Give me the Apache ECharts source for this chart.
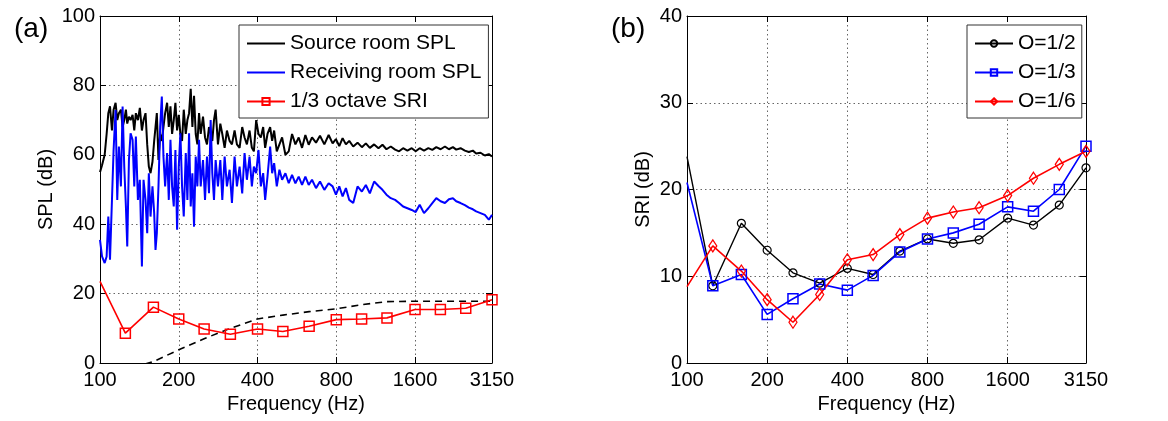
<!DOCTYPE html>
<html><head><meta charset="utf-8">
<script src="https://cdn.jsdelivr.net/npm/echarts@6/dist/echarts.min.js"></script>
<style>html,body{margin:0;padding:0;background:#fff}#c{width:1168px;height:421px}</style>
</head><body><div id="c"></div>
<script>
// ---------- data ----------
const xTickValues = [100, 200, 400, 800, 1600, 3150];
const bandFreq = [100,125,160,200,250,315,400,500,630,800,1000,1250,1600,2000,2500,3150];

// panel (a): narrow-band spectra
const specFreq = [
 100,101.8,104.2,106.0,107.6,109.2,111.1,112.7,114.7,116.4,
 118.1,120.2,122.0,123.8,125.6,127.1,129.0,130.9,133.2,135.2,
 137.1,139.6,142.0,144.6,146.7,149.3,151.5,153.7,156.0,158.7,
 161.1,163.0,164.9,167.3,169.8,172.3,174.8,177.4,180.5,183.2,
 185.9,188.6,191.4,194.2,197.1,200,202.9,205.9,209.0,212.7,
 215.8,219.0,222.2,225.5,228.8,232.2,235.6,239.1,242.6,247.6,
 252.0,256.4,261.0,264.8,268.7,272.7,276.7,282.4,288.3,293.4,
 299.5,305.6,312.9,319.4,326.9,333.7,341.6,349.6,356.9,364.3,
 372.9,380.6,387.4,395.3,403.5,411.9,420.4,427.8,436.7,447.0,
 454.9,463.0,473.9,485.1,496.6,511.3,526.5,542.1,558.3,574.8,
 591.9,609.5,627.6,646.2,669.3,693.2,720.2,748.1,774.7,797.7,
 821.4,845.8,870.8,896.6,928.7,964.7,1002.1,1037.9,1074.9,1116.6,
 1159.8,1201.2,1244.2,1292.4,1342.6,1390.5,1440.3,1496.2,1554.2,1609.4,
 1666.9,1731.5,1798.6,1862.9,1929.4,2004.2,2081.9,2156.3,2233.1,2299.4,
 2388.5,2481.1,2569.8,2661.6,2740.6,2846.9,2957.3,3062.9,3150
];
const sourceSPL = [
 55,57,60,66,72,74,67,73,75,70,
 72,73,68,70,73,69,71,70,71.5,67,
 72,70,73.5,67,70,72,63,56.6,54.7,58,
 64,68,72,58.5,66,64,68,72,75,68,
 74,66,70,75,67,71.5,66,64,73,66,
 70,72,79,68,77,66,63,72,66,71,
 65,63,68,66,64,70,73,63,69,66,
 62,67,64,63,67,63,62,68,65,63,
 67,62,61,70,66,65,68,62,66,68,
 64,67,61,63,65,60,61,66,63,65,
 62,65.7,62.9,65,63.5,65.5,63,65.7,63.3,64.5,
 62.5,64.8,63,64,62.4,63.5,62.2,63.3,62,63,
 61.9,62.9,61.6,62.4,61.5,61,61.9,61.2,61.9,61,
 61.9,61.2,61.9,61.4,62.2,61.6,62.4,61.6,62.2,61.5,
 61.9,61.2,60.8,61.2,60.4,60.6,59.8,60.2,59.5
];
const receivingSPL = [
 35.5,30.7,28.8,30.7,42.2,29.8,47,61.4,72.9,47,
 62.4,50.9,73.9,56.6,45.1,33.6,58.5,66.2,64.3,50.9,
 65.3,47,52.8,27.8,52.8,47,37.4,54.7,42.2,50.9,
 43.2,32.6,37.4,50.9,68.1,76.8,59.5,50.9,60.5,47,
 64.3,50.9,45.1,61.4,38.4,56.6,66.2,50.9,42.2,60.5,
 47,66.2,45.1,54.7,39.3,59.5,50.9,64.3,50.9,58.5,
 47,59.5,48.9,70,54.7,47,58.5,50.9,58.5,47,
 59.5,50.9,55.7,46.1,59.5,50.9,56.6,48.9,60.5,52.8,
 59.5,50.9,56.6,54.7,61.4,50.9,54.7,47,53.7,62.4,
 54.7,57.6,50.9,55.7,52.8,54.7,51.8,54.2,51.8,53.7,
 51.3,53.7,51.3,52.8,50.4,52.3,49.9,51.8,50.9,48.5,
 50.9,48,50.4,47,46.1,50.9,49.4,51.3,48.9,52.3,
 51,49.9,48.5,47.5,47,46.1,45.1,44.6,44.1,43.5,
 45.6,43.2,44.6,46.1,47.5,46.6,46.1,47.2,47.5,46.6,
 46.1,45.5,44.8,44.3,43.7,43.2,42.7,41.3,42.7
];
const sriThird = [23.5,8.6,16.1,12.7,9.8,8.3,9.8,9.1,10.6,12.5,12.7,13.0,15.4,15.4,15.8,18.2];
const refCurve = [-5,-2,0.4,3.8,7,10,12.7,13.8,14.8,15.6,16.8,17.7,17.8,17.8,17.8,17.8];

// panel (b)
const sriHalf  = [23.8,8.9,16.1,13.0,10.4,9.2,10.9,10.2,12.9,14.3,13.8,14.2,16.7,15.9,18.2,22.5];
const sriThirdB= [20.8,8.9,10.2,5.6,7.4,9.1,8.4,10.1,12.8,14.3,15.0,16.0,18.0,17.5,20.0,25.0];
const sriSixth = [8.8,13.5,10.6,7.3,4.7,7.9,11.9,12.5,14.8,16.7,17.4,17.9,19.3,21.3,22.9,24.4];

// ---------- chart ----------
const FONT = 'Arial, "Liberation Sans", Helvetica, sans-serif';
const BLACK = '#000000', BLUE = '#0000ff', RED = '#ff0000';

function pairs(xs, ys){ return xs.map((x,i)=>[x, ys[i]]); }
function bandData(ys){ return bandFreq.map((f,i)=> i===0 ? {value:[f, ys[i]], symbol:'none'} : [f, ys[i]]); }

function xAxesFor(g){
  const base = {type:'log', logBase:2, gridIndex:g, min:100, max:3150,
    axisLine:{show:true, onZero:false, lineStyle:{color:'#000', width:1}}};
  return [
    Object.assign({}, base, {position:'bottom',
      axisTick:{show:true, inside:true, length:6, customValues:xTickValues, lineStyle:{color:'#000'}},
      axisLabel:{customValues:xTickValues, color:'#000', fontSize:20, fontFamily:FONT, margin:7,
        formatter:(v)=>String(Math.round(v))},
      splitLine:{show:true, lineStyle:{color:'#666', type:[1.5,3], width:1}},
      name:'Frequency (Hz)', nameLocation:'middle', nameGap:31,
      nameTextStyle:{color:'#000', fontSize:20, fontFamily:FONT}}),
    Object.assign({}, base, {position:'top',
      axisTick:{show:true, inside:true, length:6, customValues:xTickValues, lineStyle:{color:'#000'}},
      axisLabel:{show:false, customValues:xTickValues}, splitLine:{show:false}})
  ];
}
function yAxesFor(g, max, interval, name, gap){
  const base = {type:'value', gridIndex:g, min:0, max:max, interval:interval,
    axisLine:{show:true, onZero:false, lineStyle:{color:'#000', width:1}},
    axisTick:{show:true, inside:true, length:6, lineStyle:{color:'#000'}}};
  return [
    Object.assign({}, base, {position:'left',
      axisLabel:{color:'#000', fontSize:20, fontFamily:FONT, margin:5},
      splitLine:{show:true, lineStyle:{color:'#666', type:[1.5,3], width:1}},
      name:name, nameLocation:'middle', nameGap:gap,
      nameTextStyle:{color:'#000', fontSize:20, fontFamily:FONT}}),
    Object.assign({}, base, {position:'right', axisLabel:{show:false}, splitLine:{show:false}})
  ];
}

const legendCommon = {orient:'vertical', backgroundColor:'#fff', borderColor:'#333', borderWidth:1,
  itemGap:8, itemWidth:38, itemHeight:9, textStyle:{color:'#000', fontSize:21, fontFamily:FONT}};
const noSymbol = {opacity:0};

const option = {
  animation:false,
  backgroundColor:'#fff',
  title:[
    {text:'(a)', left:9, top:10, textStyle:{fontSize:28, fontWeight:'normal', color:'#000', fontFamily:FONT}},
    {text:'(b)', left:606, top:10, textStyle:{fontSize:28, fontWeight:'normal', color:'#000', fontFamily:FONT}}
  ],
  grid:[
    {left:100, top:16, width:392, height:347},
    {left:687, top:16, width:399, height:347}
  ],
  xAxis:[...xAxesFor(0), ...xAxesFor(1)],
  yAxis:[...yAxesFor(0,100,20,'SPL (dB)',44), ...yAxesFor(1,40,10,'SRI (dB)',34)],
  legend:[
    Object.assign({}, legendCommon, {data:[
        {name:'Source room SPL', itemStyle:noSymbol},
        {name:'Receiving room SPL', itemStyle:noSymbol},
        '1/3 octave SRI'],
      left:239, top:25, padding:[8,7,6,7]}),
    Object.assign({}, legendCommon, {data:['O=1/2','O=1/3','O=1/6'],
      left:967, top:25, padding:[8,6,6,7], itemHeight:8})
  ],
  series:[
    {name:'Source room SPL', type:'line', xAxisIndex:0, yAxisIndex:0, data:pairs(specFreq, sourceSPL),
      symbol:'none', showSymbol:false, lineStyle:{color:BLACK, width:2}, itemStyle:{color:BLACK}},
    {name:'Receiving room SPL', type:'line', xAxisIndex:0, yAxisIndex:0, data:pairs(specFreq, receivingSPL),
      symbol:'none', showSymbol:false, lineStyle:{color:BLUE, width:2}, itemStyle:{color:BLUE}},
    {name:'reference', type:'line', xAxisIndex:0, yAxisIndex:0, data:pairs(bandFreq, refCurve),
      symbol:'none', lineStyle:{color:BLACK, width:1.6, type:[7,5]}, itemStyle:{color:BLACK}, clip:true},
    {name:'1/3 octave SRI', type:'line', xAxisIndex:0, yAxisIndex:0, data:bandData(sriThird),
      symbol:'rect', symbolSize:10, lineStyle:{color:RED, width:1.6},
      itemStyle:{color:'rgba(255,255,255,0)', borderColor:RED, borderWidth:1.5}},

    {name:'O=1/2', type:'line', xAxisIndex:2, yAxisIndex:2, data:bandData(sriHalf),
      symbol:'circle', symbolSize:8, lineStyle:{color:BLACK, width:1.4},
      itemStyle:{color:'rgba(255,255,255,0)', borderColor:BLACK, borderWidth:1.2}},
    {name:'O=1/3', type:'line', xAxisIndex:2, yAxisIndex:2, data:bandData(sriThirdB),
      symbol:'rect', symbolSize:10, lineStyle:{color:BLUE, width:1.6},
      itemStyle:{color:'rgba(255,255,255,0)', borderColor:BLUE, borderWidth:1.5}},
    {name:'O=1/6', type:'line', xAxisIndex:2, yAxisIndex:2, data:bandData(sriSixth),
      symbol:'diamond', symbolSize:[8,12], lineStyle:{color:RED, width:1.6},
      itemStyle:{color:'rgba(255,255,255,0)', borderColor:RED, borderWidth:1.3}}
  ]
};
const chart = echarts.init(document.getElementById('c'), null, {renderer:'canvas'});
chart.setOption(option);
</script>
</body></html>
